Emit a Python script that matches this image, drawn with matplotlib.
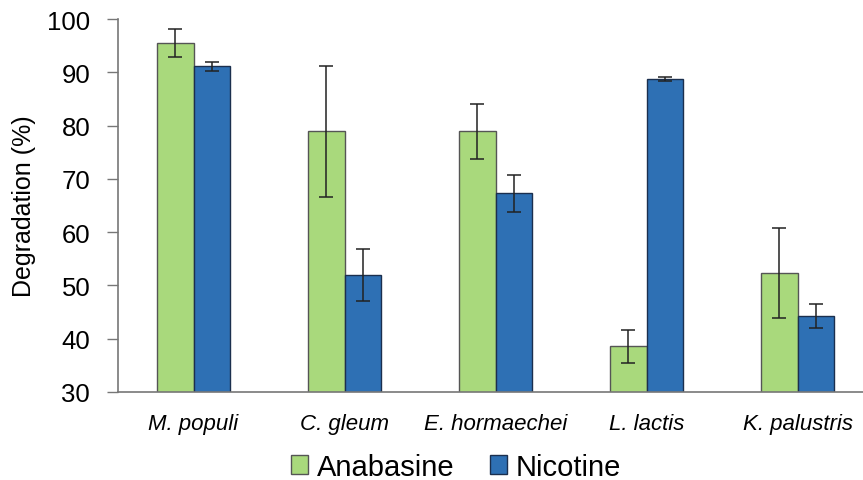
import numpy as np
import matplotlib as mpl
import matplotlib.pyplot as plt

mpl.rcParams['font.family'] = ['Liberation Sans', 'DejaVu Sans']

strains = ['M. populi', 'C. gleum', 'E. hormaechei', 'L. lactis', 'K. palustris']
anabasine = [95.5, 78.9, 78.9, 38.6, 52.3]
anabasine_err = [2.7, 12.3, 5.2, 3.1, 8.4]
nicotine = [91.1, 52.0, 67.3, 88.7, 44.3]
nicotine_err = [0.8, 4.9, 3.5, 0.4, 2.2]

fig = plt.figure(figsize=(8.63, 4.81), dpi=100)
ax = fig.add_axes([118 / 863, 88 / 481, 755 / 863, 373 / 481])

x = np.arange(len(strains))
w = 0.243
err_kw = dict(ecolor='#222222', elinewidth=1.1, capsize=5, capthick=1.1)
ax.bar(x - w / 2, anabasine, w, yerr=anabasine_err, color='#a9d97c',
       edgecolor='#555555', linewidth=1.0, label='Anabasine', error_kw=err_kw)
ax.bar(x + w / 2, nicotine, w, yerr=nicotine_err, color='#2e70b4',
       edgecolor='#1b2f4e', linewidth=1.0, label='Nicotine', error_kw=err_kw)

ax.set_xlim(-0.5, len(strains) - 0.5)
ax.set_ylim(30, 100)
ax.set_yticks(range(30, 101, 10))
ax.set_xticks(x)
ax.set_xticklabels(strains, fontstyle='italic', fontsize=16)
ax.tick_params(axis='x', length=0, pad=15)
ax.tick_params(axis='y', length=8, width=1, color='#777777', labelsize=18.5, pad=12)
ax.set_ylabel('Degradation (%)', fontsize=18, labelpad=8)

for side in ['top', 'right']:
    ax.spines[side].set_visible(False)
for side in ['left', 'bottom']:
    ax.spines[side].set_color('#777777')
    ax.spines[side].set_linewidth(1.2)

ax.legend(loc='center', bbox_to_anchor=(456 / 863, 1 - 468 / 481),
          bbox_transform=fig.transFigure, ncol=2, frameon=False, fontsize=21,
          handlelength=0.6, handleheight=0.6, handletextpad=0.3, columnspacing=1.2)

fig.savefig('out.png', dpi=100)
